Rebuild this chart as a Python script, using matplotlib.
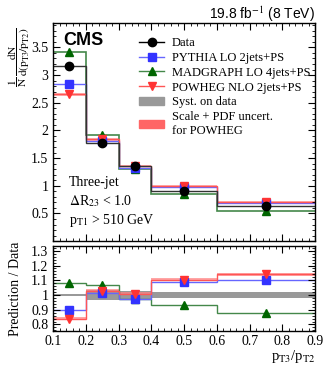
import numpy as np
import matplotlib
matplotlib.use('Agg')
import matplotlib.pyplot as plt
import matplotlib.patches as patches
from matplotlib.lines import Line2D
from matplotlib.ticker import MultipleLocator, FuncFormatter

plt.rcParams['font.family'] = ['Liberation Serif', 'DejaVu Serif']
plt.rcParams['mathtext.fontset'] = 'stix'

# bins in pT3/pT2
edges = [0.1, 0.2, 0.3, 0.4, 0.6, 0.9]
centers = [0.15, 0.25, 0.35, 0.5, 0.75]

# normalised distributions
data = [3.17, 1.78, 1.35, 0.91, 0.63]
pythia = [2.83, 1.80, 1.32, 0.98, 0.69]
madgraph = [3.42, 1.91, 1.31, 0.85, 0.55]
powheg = [2.65, 1.84, 1.36, 1.00, 0.71]

# prediction / data
r_pythia = [0.895, 1.015, 0.975, 1.085, 1.10]
r_madgraph = [1.08, 1.07, 0.97, 0.935, 0.875]
r_powheg = [0.84, 1.03, 1.01, 1.105, 1.14]
syst_data = [0.01, 0.035, 0.025, 0.02, 0.02]
pow_unc = [0.012, 0.012, 0.012, 0.012, 0.012]

c_data = 'black'
c_py = '#3333ff'
c_py_l = '#6666ff'
c_mg = '#006600'
c_mg_l = '#44884a'
c_pw = '#ff3333'
c_pw_l = '#ff5555'

fig = plt.figure(figsize=(3.32, 3.75), dpi=100)
ax1 = fig.add_axes([0.160, 0.357, 0.789, 0.583])
ax2 = fig.add_axes([0.160, 0.117, 0.789, 0.228])

edges = np.array(edges)
data = np.array(data)
powheg = np.array(powheg)

# top panel
pw_band = powheg * np.array(pow_unc)
ax1.stairs(powheg + pw_band, edges, baseline=powheg - pw_band, fill=True, color='#ff8080', alpha=0.6, lw=0)
ax1.stairs(madgraph, edges, baseline=None, color=c_mg_l, lw=1.2)
ax1.stairs(pythia, edges, baseline=None, color=c_py_l, lw=1.0)
ax1.stairs(powheg, edges, baseline=None, color=c_pw_l, lw=1.0)
ax1.stairs(data, edges, baseline=None, color='#333333', lw=1.0)
ax1.plot(centers, madgraph, '^', color=c_mg, ms=5.5, zorder=5)
ax1.plot(centers, pythia, 's', color=c_py, ms=5.5, zorder=5)
ax1.plot(centers, powheg, 'v', color=c_pw, ms=5.5, zorder=5)
ax1.plot(centers, data, 'o', color=c_data, ms=6, zorder=6)

ax1.set_xlim(0.1, 0.9)
ax1.set_ylim(0, 3.95)
ax1.yaxis.set_major_locator(MultipleLocator(0.5))
ax1.yaxis.set_minor_locator(MultipleLocator(0.1))
ax1.xaxis.set_major_locator(MultipleLocator(0.1))
ax1.xaxis.set_minor_locator(MultipleLocator(0.02))
ax1.set_xticklabels([])
ax1.set_ylabel(r'$\dfrac{1}{\mathrm{N}}\,\dfrac{\mathrm{dN}}{\mathrm{d}(\mathrm{p}_{\mathrm{T3}}/\mathrm{p}_{\mathrm{T2}})}$', fontsize=8.2)
ax1.yaxis.set_label_coords(-0.082, 0.84)

ax1.text(0.04, 0.955, 'CMS', transform=ax1.transAxes, fontsize=13, fontweight='bold',
         family='Liberation Sans', va='top')
ax1.text(0.06, 0.25, 'Three-jet', transform=ax1.transAxes, fontsize=10)
ax1.text(0.06, 0.165, r'$\Delta$R$_{23}$ < 1.0', transform=ax1.transAxes, fontsize=10)
ax1.text(0.06, 0.08, r'p$_{\mathrm{T1}}$ > 510 GeV', transform=ax1.transAxes, fontsize=10)
fig.text(0.949, 0.963, r'19.8 fb$^{-1}$ (8 TeV)', ha='right', va='center', fontsize=10,
         family='Liberation Sans')

handles = [
    Line2D([], [], color=c_data, marker='o', ms=6, lw=1),
    Line2D([], [], color=c_py_l, marker='s', mfc=c_py, mec=c_py, ms=5.5, lw=1),
    Line2D([], [], color=c_mg_l, marker='^', mfc=c_mg, mec=c_mg, ms=5.5, lw=1),
    Line2D([], [], color=c_pw_l, marker='v', mfc=c_pw, mec=c_pw, ms=5.5, lw=1),
    patches.Patch(color='#999999'),
    patches.Patch(color='#ff6666'),
]
labels = ['Data', 'PYTHIA LO 2jets+PS', 'MADGRAPH LO 4jets+PS', 'POWHEG NLO 2jets+PS',
          'Syst. on data', 'Scale + PDF uncert.\nfor POWHEG']
ax1.legend(handles, labels, loc='upper left', bbox_to_anchor=(0.31, 0.955), frameon=False,
           fontsize=9, handlelength=2.0, labelspacing=0.22, handletextpad=0.6,
           borderaxespad=0)

# ratio panel
syst_data = np.array(syst_data)
ax2.stairs(1 + syst_data, edges, baseline=1 - syst_data, fill=True, color='#999999', lw=0)
rp = np.array(r_powheg)
ax2.stairs(rp + np.array(pow_unc), edges, baseline=rp - np.array(pow_unc), fill=True,
           color='#ff8080', alpha=0.7, lw=0)
ax2.stairs(r_madgraph, edges, baseline=None, color=c_mg_l, lw=1.0)
ax2.stairs(r_pythia, edges, baseline=None, color=c_py_l, lw=1.0)
ax2.stairs(r_powheg, edges, baseline=None, color=c_pw_l, lw=1.0)
ax2.plot(centers, r_madgraph, '^', color=c_mg, ms=5.5, zorder=5)
ax2.plot(centers, r_pythia, 's', color=c_py, ms=5.5, zorder=5)
ax2.plot(centers, r_powheg, 'v', color=c_pw, ms=5.5, zorder=5)

ax2.set_xlim(0.1, 0.9)
ax2.set_ylim(0.755, 1.335)
ax2.yaxis.set_major_locator(MultipleLocator(0.1))
ax2.yaxis.set_minor_locator(MultipleLocator(0.02))
ax2.xaxis.set_major_locator(MultipleLocator(0.1))
ax2.xaxis.set_minor_locator(MultipleLocator(0.02))
ax2.set_ylabel('Prediction / Data', fontsize=10)
ax2.yaxis.set_label_coords(-0.12, 0.5)
ax2.set_xlabel(r'p$_{\mathrm{T3}}$/p$_{\mathrm{T2}}$', fontsize=10.5)
ax2.xaxis.set_label_coords(1.0, -0.2)
ax2.xaxis.label.set_ha('right')

fmt = FuncFormatter(lambda v, p: '%g' % round(v, 3))
fmt_top = FuncFormatter(lambda v, p: '' if abs(v) < 1e-6 else '%g' % round(v, 3))
ax1.yaxis.set_major_formatter(fmt_top)
ax2.yaxis.set_major_formatter(fmt)
ax2.xaxis.set_major_formatter(fmt)
for ax in (ax1, ax2):
    ax.tick_params(which='both', direction='in', top=True, right=True, labelsize=10)
    ax.tick_params(which='major', length=5, width=0.8)
    ax.tick_params(which='minor', length=2.5, width=0.6)
    for s in ax.spines.values():
        s.set_linewidth(1.0)
ax2.tick_params(axis='x', pad=3)

fig.savefig('out.png', dpi=100)
plt.close()
